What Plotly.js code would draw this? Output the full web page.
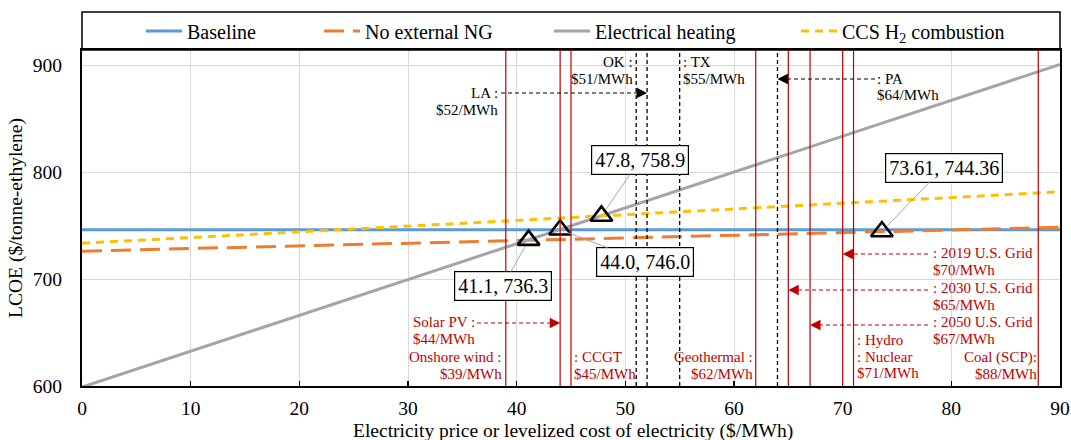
<!DOCTYPE html>
<html>
<head>
<meta charset="utf-8">
<script src="https://cdn.plot.ly/plotly-3.0.1.min.js"></script>
<style>html,body{margin:0;padding:0;background:#fff;}#chart{width:1071px;height:440px;}</style>
</head>
<body>
<div id="chart"></div>
<script>
// ---------------- data ----------------
const xEnds = [0, 90];
const baselineY = [746.0, 746.0];
const noExtNgY = [726.0, 748.3];
const elecHeatY = [599.0, 900.5];
const ccsH2Y = [733.4, 781.5];

const crossX = [41.1, 44.0, 47.8, 73.61];
const crossY = [736.3, 746.0, 758.9, 744.36];
const crossLabels = ["41.1, 736.3", "44.0, 746.0", "47.8, 758.9", "73.61, 744.36"];

const techNames = ["Onshore wind", "Solar PV", "CCGT", "Geothermal", "2030 U.S. Grid", "2050 U.S. Grid", "2019 U.S. Grid", "Hydro", "Nuclear", "Coal (SCP)"];
const techCosts = [39, 44, 45, 62, 65, 67, 70, 71, 71, 88];
const stateNames = ["OK", "LA", "TX", "PA"];
const stateCosts = [51, 52, 55, 64];

const xTicks = [0, 10, 20, 30, 40, 50, 60, 70, 80, 90];
const yTicks = [600, 700, 800, 900];
const xTitle = 'Electricity price or levelized cost of electricity ($/MWh)';
const yTitle = 'LCOE ($/tonne-ethylene)';

// ---------------- geometry helpers ----------------
const L = 82, R = 1060, T = 50, B = 386;
const px2x = p => (p - L) / (R - L);
const px2y = p => (B - p) / (B - T);
const RED = '#C00000';
const SERIF = 'Liberation Serif';

const traces = [
  {x: xEnds, y: baselineY, mode: 'lines', name: 'Baseline', legend: 'legend',
   line: {color: '#5B9BD5', width: 3}},
  {x: xEnds, y: noExtNgY, mode: 'lines', name: 'No external NG', legend: 'legend2',
   line: {color: '#ED7D31', width: 3, dash: '20px,9px'}},
  {x: xEnds, y: elecHeatY, mode: 'lines', name: 'Electrical heating', legend: 'legend3',
   line: {color: '#A5A5A5', width: 3}},
  {x: xEnds, y: ccsH2Y, mode: 'lines', name: 'CCS H<sub>2</sub> combustion', legend: 'legend4',
   line: {color: '#FFC000', width: 3, dash: '8px,6px'}},
  {x: crossX, y: crossY, mode: 'markers', showlegend: false,
   marker: {symbol: 'triangle-up-open', size: 19, color: '#000', line: {color: '#000', width: 2.6}}}
];

const shapes = [];
// legend frame
shapes.push({type: 'rect', xref: 'paper', yref: 'paper', x0: 0, x1: 1, y0: 1, y1: px2y(12),
  line: {color: '#000', width: 1.5}, fillcolor: 'rgba(0,0,0,0)'});
// red technology lines
[...new Set(techCosts)].forEach(c => shapes.push({type: 'line', xref: 'x', yref: 'paper',
  x0: c, x1: c, y0: 0, y1: 1, line: {color: RED, width: 1.2}}));
// black dashed state lines
stateCosts.forEach(c => shapes.push({type: 'line', xref: 'x', yref: 'paper',
  x0: c, x1: c, y0: 0, y1: 1, line: {color: '#000', width: 1.3, dash: '4px,3px'}}));

const annotations = [];
function block(lines, xpx, ytop, anchor, color) {
  lines.forEach((t, k) => annotations.push({
    xref: 'paper', yref: 'paper', x: px2x(xpx), y: px2y(ytop + 16.5 * k),
    xanchor: anchor, yanchor: 'middle', showarrow: false, text: t,
    font: {family: SERIF, size: 15, color: color}, borderpad: 0
  }));
}
function dashedArrow(fromPx, target, ypx, dir, color) {
  // dir = +1 : arrow points right; -1 : arrow points left
  const tipPx = L + target * (R - L) / 90;
  shapes.push({type: 'line', xref: 'paper', yref: 'paper',
    x0: px2x(fromPx), x1: px2x(tipPx - dir * 8), y0: px2y(ypx), y1: px2y(ypx),
    line: {color: color, width: 1.2, dash: '4px,3px'}});
  annotations.push({xref: 'x', yref: 'paper', x: target, y: px2y(ypx), text: ' ',
    showarrow: true, ax: -dir * 10, ay: 0, arrowhead: 2, arrowsize: 1.3, arrowwidth: 1.6,
    arrowcolor: color, standoff: 0, font: {size: 1}});
}
const cost = c => '$' + c + '/MWh';

// state labels (black)
block([stateNames[0] + ' :', cost(stateCosts[0])], 634, 62, 'right', '#000');
block([stateNames[1] + ' :', cost(stateCosts[1])], 499, 93, 'right', '#000');
dashedArrow(501, stateCosts[1], 93, +1, '#000');
block([': ' + stateNames[2], cost(stateCosts[2])], 682, 62, 'left', '#000');
block([': ' + stateNames[3], cost(stateCosts[3])], 876, 79, 'left', '#000');
dashedArrow(875, stateCosts[3], 79, -1, '#000');

// technology labels (red)
block([techNames[0] + ' :', cost(techCosts[0])], 503, 357, 'right', RED);
block([techNames[1] + ' :', cost(techCosts[1])], 412, 322, 'left', RED);
dashedArrow(477, techCosts[1], 323, +1, RED);
block([': ' + techNames[2], cost(techCosts[2])], 573, 357, 'left', RED);
block([techNames[3] + ' :', cost(techCosts[3])], 754, 357, 'right', RED);
block([': ' + techNames[6], cost(techCosts[6])], 932, 253, 'left', RED);
dashedArrow(928, techCosts[6], 254, -1, RED);
block([': ' + techNames[4], cost(techCosts[4])], 932, 288, 'left', RED);
dashedArrow(928, techCosts[4], 290, -1, RED);
block([': ' + techNames[5], cost(techCosts[5])], 932, 322, 'left', RED);
dashedArrow(928, techCosts[5], 325, -1, RED);
block([': ' + techNames[7], ': ' + techNames[8], cost(techCosts[8])], 856, 340, 'left', RED);
block([techNames[9] + ':', cost(techCosts[9])], 1038, 357, 'right', RED);

// intersection call-outs
const boxCenters = [[38.74, 693.5], [51.85, 715.9], [51.35, 811.2], [79.28, 804.2]];
crossLabels.forEach((t, i) => annotations.push({
  xref: 'x', yref: 'y', axref: 'x', ayref: 'y', x: crossX[i], y: crossY[i],
  ax: boxCenters[i][0], ay: boxCenters[i][1], text: t, showarrow: true, arrowhead: 0,
  arrowcolor: '#A6A6A6', arrowwidth: 1, standoff: 8,
  bordercolor: '#000', borderwidth: 1.2, borderpad: 3, bgcolor: '#fff',
  font: {family: SERIF, size: 20, color: '#000'}
}));

// x-axis title (as annotation so it can sit in the narrow bottom margin)
annotations.push({xref: 'paper', yref: 'paper', x: px2x(573), y: px2y(431),
  xanchor: 'center', yanchor: 'middle', showarrow: false, text: xTitle, borderpad: 0,
  font: {family: SERIF, size: 19.5, color: '#000'}});

const legendBase = {orientation: 'h', yanchor: 'middle', y: px2y(31), xanchor: 'left',
  bgcolor: 'rgba(0,0,0,0)', borderwidth: 0, font: {family: SERIF, size: 20, color: '#000'},
  itemwidth: 36};
const layout = {
  width: 1071, height: 440,
  margin: {l: L, r: 1071 - R, t: T, b: 440 - B},
  paper_bgcolor: '#fff', plot_bgcolor: '#fff',
  font: {family: SERIF, color: '#000'},
  showlegend: true,
  legend: Object.assign({}, legendBase, {x: px2x(141)}),
  legend2: Object.assign({}, legendBase, {x: px2x(319)}),
  legend3: Object.assign({}, legendBase, {x: px2x(549)}),
  legend4: Object.assign({}, legendBase, {x: px2x(796)}),
  xaxis: {range: [0, 90], tickvals: xTicks, ticktext: xTicks.map(String),
    showgrid: true, gridcolor: '#D9D9D9', gridwidth: 1, zeroline: false,
    showline: true, linecolor: '#000', linewidth: 2, mirror: true,
    ticks: 'inside', ticklen: 5, tickcolor: '#000', tickwidth: 1.5, ticklabelstandoff: 4,
    tickfont: {family: SERIF, size: 19.5, color: '#000'}},
  yaxis: {range: [600, 600 + (B - T) * 300 / 321], tickvals: yTicks, ticktext: yTicks.map(String),
    showgrid: true, gridcolor: '#D9D9D9', gridwidth: 1, zeroline: false,
    showline: true, linecolor: '#000', linewidth: 2, mirror: true,
    ticks: '', ticklabelstandoff: 14,
    tickfont: {family: SERIF, size: 19.5, color: '#000'},
    title: {text: yTitle, standoff: 5,
      font: {family: SERIF, size: 19.5, color: '#000'}}},
  shapes: shapes,
  annotations: annotations
};
Plotly.newPlot('chart', traces, layout, {displayModeBar: false, staticPlot: true});
</script>
</body>
</html>
